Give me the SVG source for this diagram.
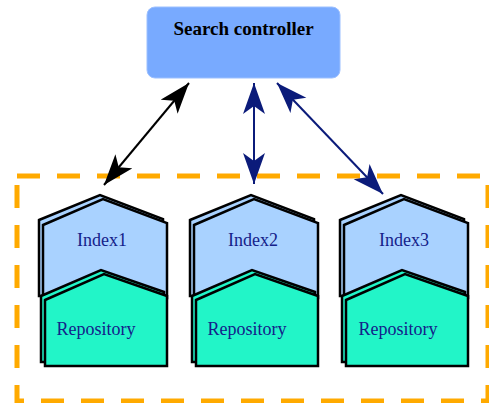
<svg xmlns="http://www.w3.org/2000/svg" width="489" height="403" viewBox="0 0 489 403">
<style>
.lbl{font-family:"Liberation Serif","Times New Roman",serif;font-size:18px;fill:#14218a;text-anchor:middle}
.ctl{font-family:"Liberation Serif","Times New Roman",serif;font-size:19px;font-weight:bold;fill:#000;text-anchor:middle}
.ib{fill:#a9d2ff;stroke:#000;stroke-width:2.5;stroke-linejoin:miter}
.rb{fill:#22f5c8;stroke:#000;stroke-width:2.5;stroke-linejoin:miter}
.cn{stroke-width:2;fill:none}
</style>
<defs>
<marker id="hb" markerUnits="userSpaceOnUse" markerWidth="34" markerHeight="24" refX="31" refY="11" orient="auto-start-reverse"><path d="M0,0 L31,11 L0,22 L8,11 Z" fill="#000"/></marker>
<marker id="hn" markerUnits="userSpaceOnUse" markerWidth="34" markerHeight="24" refX="31" refY="11" orient="auto-start-reverse"><path d="M0,0 L31,11 L0,22 L8,11 Z" fill="#0b1b7a"/></marker>
<g id="col">
<polygon class="ib" points="39,220 100,195 163,219 163,296 39,296"/>
<polygon class="ib" points="43,225 103,199 167,223 167,298 43,298"/>
<polygon class="rb" points="41,296 101,270 164,292 164,362 41,362"/>
<polygon class="rb" points="45,300 104,274 167,296 167,366 45,366"/>
</g>
</defs>
<rect x="17" y="176" width="471" height="225" fill="none" stroke="#ffaa00" stroke-width="5" stroke-dasharray="23 17"/>
<g id="controller">
<rect x="147" y="7" width="193" height="71" rx="8" fill="#78aaff" stroke="#9cc0ff" stroke-width="1"/>
<text class="ctl" x="243.5" y="35">Search controller</text>
</g>
<g id="node1">
<use href="#col"/>
<text class="lbl" x="102" y="246">Index1</text>
<text class="lbl" x="96" y="335">Repository</text>
</g>
<g id="node2" transform="translate(151,0)">
<use href="#col"/>
<text class="lbl" x="102" y="246">Index2</text>
<text class="lbl" x="96" y="335">Repository</text>
</g>
<g id="node3" transform="translate(301,0)">
<use href="#col"/>
<text class="lbl" x="103" y="246">Index3</text>
<text class="lbl" x="97" y="335">Repository</text>
</g>
<g id="connectors">
<line class="cn" x1="104" y1="185" x2="189" y2="83" stroke="#000" marker-start="url(#hb)" marker-end="url(#hb)"/>
<line class="cn" x1="254" y1="184" x2="254" y2="83" stroke="#0b1b7a" marker-start="url(#hn)" marker-end="url(#hn)"/>
<line class="cn" x1="383" y1="194" x2="277" y2="83" stroke="#0b1b7a" marker-start="url(#hn)" marker-end="url(#hn)"/>
</g>
</svg>
